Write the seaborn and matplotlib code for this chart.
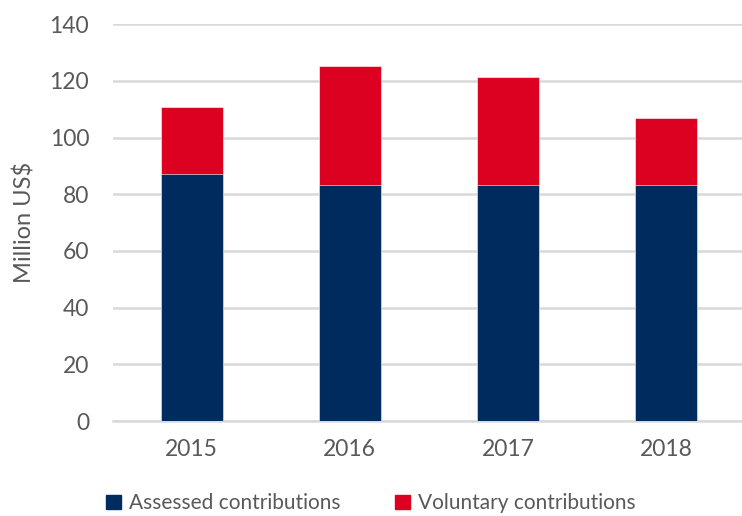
import matplotlib
matplotlib.use("Agg")
import matplotlib.pyplot as plt
import seaborn as sns
import pandas as pd
from matplotlib.patches import Patch

years = ["2015", "2016", "2017", "2018"]
assessed = [87.0, 83.3, 83.3, 83.3]
voluntary = [23.8, 41.9, 38.0, 23.7]
yticks = [0, 20, 40, 60, 80, 100, 120, 140]

navy = "#002B5F"
red = "#DC0021"
text_col = "#595959"

sns.set_theme(style="white")
plt.rcParams['font.family'] = ['Lato', 'DejaVu Sans']

df = pd.DataFrame({"year": years, "assessed": assessed,
                   "total": [a + v for a, v in zip(assessed, voluntary)]})

fig = plt.figure(figsize=(7.42, 5.16), dpi=100)
ax = fig.add_axes([0.152, 0.184, 0.852, 0.769])

sns.barplot(data=df, x="year", y="total", color=red, width=0.39, ax=ax,
            saturation=1, edgecolor="white", linewidth=0.4, zorder=3)
sns.barplot(data=df, x="year", y="assessed", color=navy, width=0.39, ax=ax,
            saturation=1, edgecolor="white", linewidth=0.4, zorder=3)

ax.set_ylim(0, 140)
ax.set_xlim(-0.5, 3.5)
ax.set_yticks(yticks)
ax.yaxis.grid(True, color="#D9D9D9", linewidth=1.8, zorder=0)
ax.set_axisbelow(True)
for s in ["top", "right", "left"]:
    ax.spines[s].set_visible(False)
ax.spines["bottom"].set_color("#D9D9D9")
ax.spines["bottom"].set_linewidth(1.8)
ax.tick_params(axis="both", length=0, labelsize=16.5, colors=text_col)
ax.tick_params(axis="x", pad=13)
ax.tick_params(axis="y", pad=17)
ax.set_xlabel("")
ax.set_ylabel("Million US$", fontsize=17, color=text_col, labelpad=10)

handles = [Patch(color=navy, label="Assessed contributions"),
           Patch(color=red, label="Voluntary contributions")]
fig.legend(handles=handles, loc="center", bbox_to_anchor=(0.5, 0.025),
           ncol=2, frameon=False, fontsize=15, labelcolor=text_col,
           handlelength=0.7, handleheight=0.7, handletextpad=0.4,
           columnspacing=2.6)

fig.savefig("out.png", dpi=100)
